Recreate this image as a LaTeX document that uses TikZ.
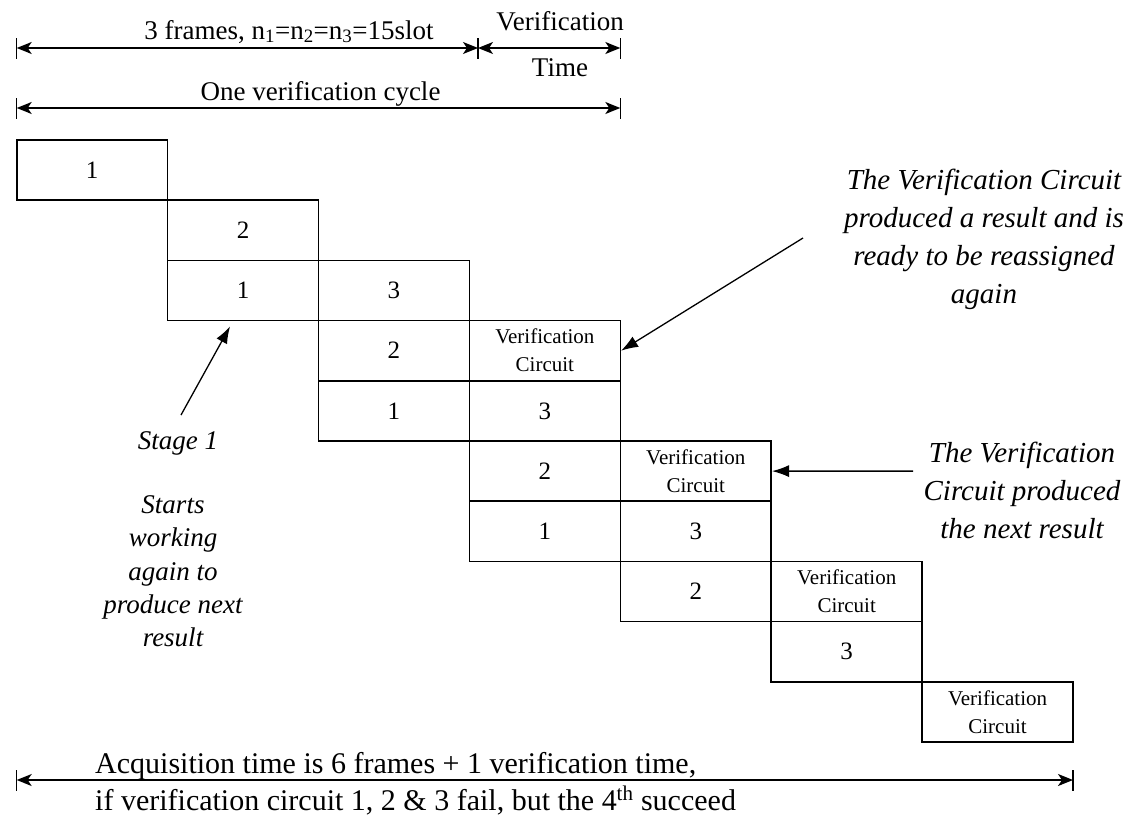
\documentclass[tikz,border=0pt]{standalone}
\usepackage{fontspec}
\setmainfont{Liberation Serif}
\usetikzlibrary{arrows.meta,calc}

\tikzset{
  cellbox/.style={draw, line width=1.6pt, minimum width=150.9pt, minimum height=60.2pt,
    inner sep=0pt, font=\fontsize{25}{30}\selectfont},
  vcbox/.style={cellbox, align=center, font=\fontsize{21}{28}\selectfont},
  dimline/.style={line width=1.4pt,
    {Stealth[length=15pt,width=12pt,inset=4pt]}-{Stealth[length=15pt,width=12pt,inset=4pt]}},
  dimtick/.style={line width=1.4pt},
  callout/.style={line width=1.3pt, -{Latex[length=17pt,width=12pt]}},
  lbl/.style={font=\fontsize{27}{32}\selectfont, inner sep=0pt},
  note/.style={font=\fontsize{29}{38}\selectfont\itshape, align=center, inner sep=0pt},
  stagenote/.style={font=\fontsize{27}{33.3}\selectfont\itshape, align=center, inner sep=0pt},
  bottomlbl/.style={font=\fontsize{30}{36}\selectfont, inner sep=0pt, anchor=base west},
}

% one slot of the pipeline: [style]{name}{column}{row}{text}
\newcommand\putcell[5][cellbox]{\node[#1] (#2) at ({92.15+150.9*#3},{170.1+60.2*#4}) {#5};}

\begin{document}
\begin{tikzpicture}[x=1pt,y=-1pt]
\useasboundingbox (0,0) rectangle (1142,830);

% pipeline slots
\putcell{c00}{0}{0}{1}
\putcell{c11}{1}{1}{2}
\putcell{c12}{1}{2}{1}
\putcell{c22}{2}{2}{3}
\putcell{c23}{2}{3}{2}
\putcell{c24}{2}{4}{1}
\putcell[vcbox]{v33}{3}{3}{Verification\\Circuit}
\putcell{c34}{3}{4}{3}
\putcell{c35}{3}{5}{2}
\putcell{c36}{3}{6}{1}
\putcell[vcbox]{v45}{4}{5}{Verification\\Circuit}
\putcell{c46}{4}{6}{3}
\putcell{c47}{4}{7}{2}
\putcell[vcbox]{v57}{5}{7}{Verification\\Circuit}
\putcell{c58}{5}{8}{3}
\putcell[vcbox]{v69}{6}{9}{Verification\\Circuit}

% dimension lines
\coordinate (d0) at (16.7,48);
\coordinate (d1) at (478,48);
\coordinate (d2) at (620.3,48);
\coordinate (e0) at (16.7,108);
\coordinate (e1) at (620.3,108);
\coordinate (f0) at (16.7,780);
\coordinate (f1) at (1073,780);
\draw[dimline] (d0) -- (d1);
\draw[dimline] (d1) -- (d2);
\draw[dimline] (e0) -- (e1);
\draw[dimline] (f0) -- (f1);
\foreach \p in {d0,d1,d2,e0,e1,f0,f1}
  \draw[dimtick] ([yshift=-10.5pt]\p) -- ([yshift=10.5pt]\p);

\node[lbl, anchor=base] (lframes) at (289,39) {3 frames, n\textsubscript{1}=n\textsubscript{2}=n\textsubscript{3}=15slot};
\node[lbl, anchor=base] (lverif) at (560,30) {Verification};
\node[lbl, anchor=base] (ltime) at (560,76) {Time};
\node[lbl, anchor=base] (lcycle) at (320.5,100) {One verification cycle};

\node[bottomlbl] (lacq) at (95,773) {Acquisition time is 6 frames + 1 verification time,};
\node[bottomlbl] (lcond) at (95,810) {if verification circuit 1, 2 \& 3 fail, but the 4\textsuperscript{th} succeed};

% annotations
\node[note] (nreset) at (984,239.5) {The Verification Circuit\\produced a result and is\\ready to be reassigned\\again};
\node[note] (nnext) at (1022,490) {The Verification\\Circuit produced\\the next result};
\node[stagenote] (nstage) at (178,443) {Stage 1};
\node[stagenote] (nstarts) at (173,571.5) {Starts\\working\\again to\\produce next\\result};

% callout arrows
\coordinate (a1) at (803,238);
\coordinate (a2) at (913,471.1);
\coordinate (a3) at (181,415);
\draw[callout] (a1) -- (v33.east);
\draw[callout] (a2) -- (v45.east);
\draw[callout] (a3) -- ($(c12.south)+(-13,5)$);
\end{tikzpicture}
\end{document}
